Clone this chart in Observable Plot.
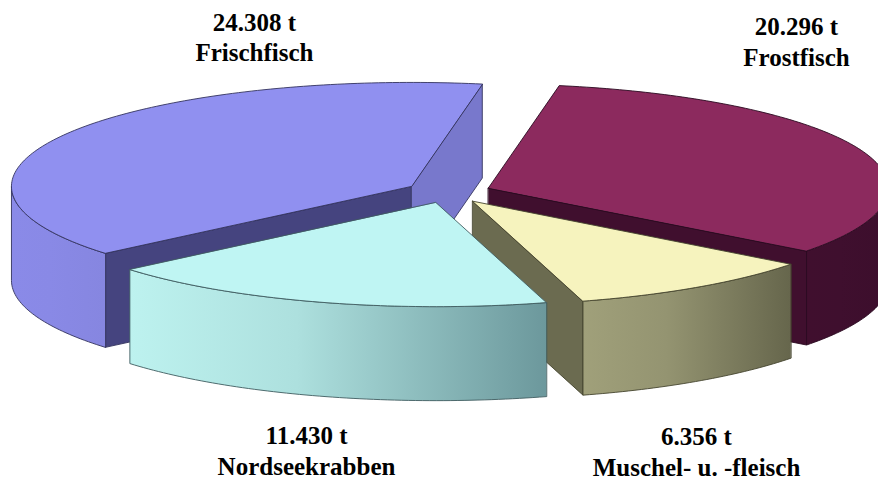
<!DOCTYPE html>
<html>
<head>
<meta charset="utf-8">
<style>html,body{margin:0;padding:0;background:#fff}svg{display:block}</style>
<script src="https://cdn.jsdelivr.net/npm/d3@7"></script>
<script src="https://cdn.jsdelivr.net/npm/@observablehq/plot@0.6"></script>
</head>
<body>
<div id="chart"></div>
<script>
// Data (clockwise from the first slice)
const categories = ["Frostfisch", "Muschel- u. -fleisch", "Nordseekrabben", "Frischfisch"];
const tonnes = [20296, 6356, 11430, 24308];
const drawOrder = ["Frischfisch", "Frostfisch", "Muschel- u. -fleisch", "Nordseekrabben"];

// Styles per slice
const topColors = ["#8c2a5e", "#f6f3be", "#bff5f3", "#9090f0"];
const wallColors = ["#400f2e", "#a0a07a", "#bdf2ef", "#8a8ae8"];
const wallEndColors = ["#3c0e2c", "#66664c", "#6c989c", "#8686e0"];
const cutStartColors = ["#400f2e", "#6b6b50", "#6c989c", "#7878cc"];
const cutEndColors = ["#400f2e", "#6b6b50", "#6c989c", "#45447f"];
const edgeColors = ["#2a0a20", "#45452f", "#3f5c60", "#33335e"];

// Pie projection
const width = 878, height = 483;
const cx = 448, cy = 191.5, rx = 400, ry = 104, depth = 94, explode = 0.107;
const firstAngle = 10.2 * Math.PI / 180;
const labelReach = [[0.87, -1.453], [0.62, 2.49], [-0.355, 2.476], [-0.485, -1.5]]; // in pie radii

const pie = d3.pie().sort(null).startAngle(firstAngle).endAngle(firstAngle + 2 * Math.PI)(tonnes);
const proj = (a, r = 1) => [r * rx * Math.sin(a), -r * ry * Math.cos(a)];
const numFmt = (v) => d3.format(",")(v).replace(/,/g, ".");

const marks = [];
const poly = (pts, fill, stroke) =>
  marks.push(Plot.line(pts, {x: "0", y: "1", curve: "linear-closed", fill, stroke, strokeWidth: 0.9, strokeLinejoin: "round"}));

const sampled = (a0, a1) => {
  const n = Math.max(2, Math.ceil(Math.abs(a1 - a0) / (Math.PI / 180)));
  return d3.range(n + 1).map((i) => a0 + (a1 - a0) * i / n);
};

for (const name of drawOrder) {
  const i = categories.indexOf(name);
  const {startAngle: a0, endAngle: a1} = pie[i];
  const mid = (a0 + a1) / 2;
  const [ox, oy] = proj(mid, explode);
  const ax = cx + ox, ay = cy + oy;
  const at = (a, dy = 0) => { const [x, y] = proj(a); return [ax + x, ay + y + dy]; };
  // Cut faces, only where they face the viewer
  const cut = (a, side, fill) => {
    if (Math.cos(a + side * Math.PI / 2) < -0.02)
      poly([[ax, ay], at(a), at(a, depth), [ax, ay + depth]], fill, edgeColors[i]);
  };
  cut(a0, -1, cutEndColors[i]);
  cut(a1, 1, cutStartColors[i]);
  // Rim: front half of the ellipse only
  const lo = Math.max(a0, Math.PI / 2), hi = Math.min(a1, 3 * Math.PI / 2);
  if (hi > lo) {
    const arc = sampled(lo, hi);
    poly([...arc.map((a) => at(a)), ...arc.slice().reverse().map((a) => at(a, depth))], `url(#rim${i})`, edgeColors[i]);
  }
  // Top
  poly([[ax, ay], ...sampled(a0, a1).map((a) => at(a))], topColors[i], edgeColors[i]);
}

// Labels
const labels = categories.map((c, i) => ({
  x: cx + labelReach[i][0] * rx,
  y: cy + labelReach[i][1] * ry,
  text: `${numFmt(tonnes[i])} t\n${c}`
}));
marks.push(Plot.text(labels, {
  x: "x", y: "y", text: "text", textAnchor: "middle", lineHeight: 1.22,
  fontFamily: "Liberation Serif", fontWeight: "bold", fontSize: 25, fill: "#000"
}));

const plot = Plot.plot({
  width, height, margin: 0,
  style: {background: "#fff", overflow: "hidden"},
  x: {type: "linear", domain: [0, width], range: [0, width], axis: null},
  y: {type: "linear", domain: [0, height], range: [0, height], axis: null},
  marks
});

// Horizontal rim shading
const defs = d3.select(plot).insert("defs", ":first-child");
categories.forEach((c, i) => {
  const g = defs.append("linearGradient").attr("id", `rim${i}`).attr("x1", 0).attr("x2", 1).attr("y1", 0).attr("y2", 0);
  g.append("stop").attr("offset", 0).attr("stop-color", wallColors[i]);
  g.append("stop").attr("offset", 0.4).attr("stop-color", d3.interpolateRgb(wallColors[i], wallEndColors[i])(0.2));
  g.append("stop").attr("offset", 1).attr("stop-color", wallEndColors[i]);
});
document.getElementById("chart").append(plot);
</script>
</body>
</html>
